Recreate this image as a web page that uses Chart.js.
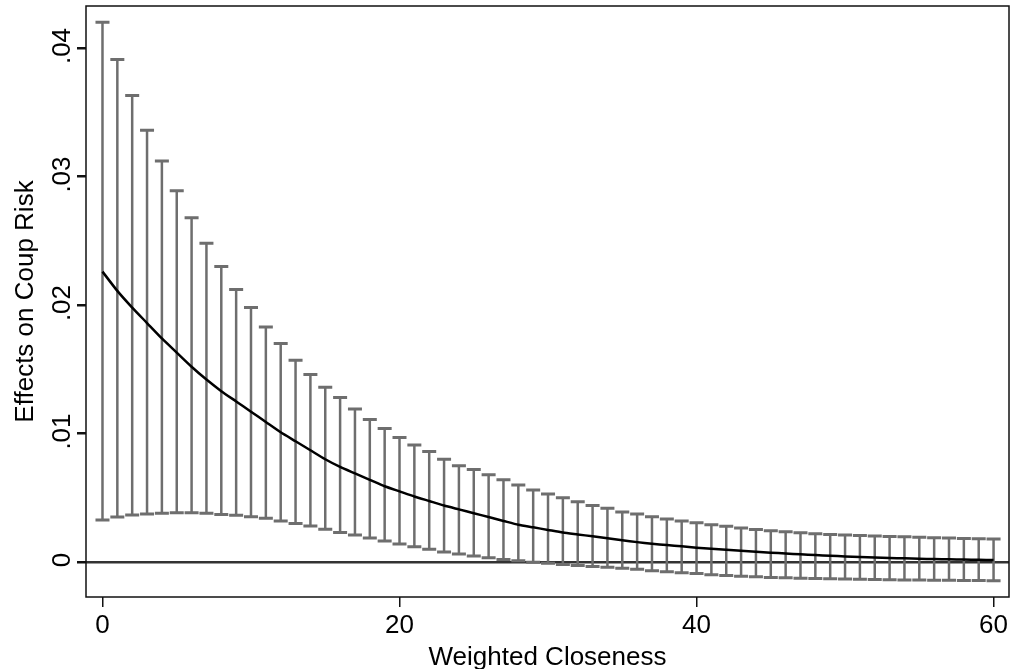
<!DOCTYPE html>
<html>
<head>
<meta charset="utf-8">
<script src="https://cdn.jsdelivr.net/npm/chart.js@4.4.1/dist/chart.umd.min.js"></script>
<style>
  html, body { margin: 0; padding: 0; background: #fff; }
  #wrap { width: 1011px; height: 669px; }
</style>
</head>
<body>
<div id="wrap"><canvas id="coupChart"></canvas></div>
<script>
// Weighted closeness values (x) and estimated effects with 95% CI
const closeness = [0, 1, 2, 3, 4, 5, 6, 7, 8, 9, 10, 11, 12, 13, 14, 15, 16, 17, 18, 19, 20,
    21, 22, 23, 24, 25, 26, 27, 28, 29, 30, 31, 32, 33, 34, 35, 36, 37, 38, 39, 40,
    41, 42, 43, 44, 45, 46, 47, 48, 49, 50, 51, 52, 53, 54, 55, 56, 57, 58, 59, 60];

const effect = [0.0226, 0.0211, 0.0198, 0.0186, 0.0174, 0.0163, 0.0152, 0.0142, 0.0133, 0.0125,
    0.0117, 0.0109, 0.0101, 0.0094, 0.0087, 0.0080, 0.0074, 0.0069, 0.0064, 0.0059,
    0.0055, 0.0051, 0.00475, 0.0044, 0.0041, 0.0038, 0.0035, 0.0032, 0.0029, 0.0027,
    0.0025, 0.0023, 0.00215, 0.0020, 0.00185, 0.0017, 0.00155, 0.00143, 0.00132, 0.00122,
    0.00112, 0.00103, 0.00095, 0.00087, 0.0008, 0.00073, 0.00066, 0.0006, 0.00054, 0.00049,
    0.00044, 0.0004, 0.00036, 0.00032, 0.00029, 0.00026, 0.00023, 0.00021, 0.00019, 0.00017,
    0.00015];

const upper = [0.0420, 0.0391, 0.0363, 0.0336, 0.0312, 0.0289, 0.0268, 0.0248, 0.0230, 0.0212,
    0.0198, 0.0183, 0.0170, 0.0157, 0.0146, 0.0136, 0.0128, 0.0119, 0.0111, 0.0104,
    0.0097, 0.0091, 0.0086, 0.0080, 0.0075, 0.0072, 0.0068, 0.0064, 0.0060, 0.0056,
    0.0053, 0.0050, 0.0047, 0.0044, 0.00418, 0.0039, 0.00373, 0.00353, 0.00335, 0.00319,
    0.00306, 0.0029, 0.00278, 0.00265, 0.00254, 0.00244, 0.00236, 0.00228, 0.0022, 0.00215,
    0.0021, 0.00206, 0.00202, 0.00199, 0.00196, 0.00192, 0.00189, 0.00187, 0.00184, 0.00182,
    0.0018];

const lower = [0.00327, 0.0035, 0.00366, 0.00374, 0.0038, 0.00384, 0.00384, 0.0038, 0.0037, 0.00364,
    0.00353, 0.0034, 0.0032, 0.0030, 0.0028, 0.00256, 0.0023, 0.0021, 0.00187, 0.00163,
    0.0014, 0.0012, 0.00099, 0.00078, 0.00062, 0.00047, 0.00033, 0.0002, 0.0001, -0.00001,
    -0.0001, -0.0002, -0.00027, -0.00034, -0.00041, -0.00049, -0.00057, -0.00067, -0.00075, -0.00083,
    -0.0009, -0.00098, -0.00104, -0.0011, -0.00115, -0.0012, -0.00123, -0.00126, -0.00128, -0.0013,
    -0.00132, -0.00134, -0.00136, -0.00137, -0.00139, -0.0014, -0.00141, -0.00142, -0.00143, -0.00144,
    -0.00145];

const xTicks = [0, 20, 40, 60];
const yTicks = [0, 0.01, 0.02, 0.03, 0.04];

const FONT = "'Liberation Sans', Arial, sans-serif";

// caps and stems for the confidence intervals
const errorBars = {
    id: 'errorBars',
    beforeDatasetsDraw(chart) {
        const { ctx, scales: { x, y } } = chart;
        ctx.save();
        ctx.strokeStyle = '#6e6e6e';
        closeness.forEach((c, i) => {
            const px = x.getPixelForValue(c);
            const top = y.getPixelForValue(upper[i]);
            const bot = y.getPixelForValue(lower[i]);
            ctx.lineWidth = 2.5;
            ctx.beginPath();
            ctx.moveTo(px, top);
            ctx.lineTo(px, bot);
            ctx.stroke();
            ctx.lineWidth = 3;
            ctx.beginPath();
            ctx.moveTo(px - 7, top);
            ctx.lineTo(px + 7, top);
            ctx.moveTo(px - 7, bot);
            ctx.lineTo(px + 7, bot);
            ctx.stroke();
        });
        ctx.restore();
    }
};

const frame = {
    id: 'frame',
    afterDraw(chart) {
        const { ctx, chartArea: a } = chart;
        ctx.save();
        ctx.strokeStyle = '#111';
        ctx.lineWidth = 1.5;
        ctx.strokeRect(a.left, a.top, a.right - a.left, a.bottom - a.top);
        ctx.restore();
    }
};

new Chart(document.getElementById('coupChart'), {
    type: 'line',
    data: {
        datasets: [{
            data: closeness.map((c, i) => ({ x: c, y: effect[i] })),
            borderColor: '#000',
            borderWidth: 2.5,
            pointRadius: 0,
            tension: 0.2,
            fill: false
        }]
    },
    options: {
        responsive: true,
        maintainAspectRatio: false,
        animation: false,
        layout: { padding: { top: 6, right: 2, left: 0, bottom: 0 } },
        plugins: {
            legend: { display: false },
            tooltip: { enabled: false }
        },
        scales: {
            x: {
                type: 'linear',
                min: -1.11,
                max: 61.04,
                afterBuildTicks: s => { s.ticks = xTicks.map(v => ({ value: v })); },
                afterFit: s => { s.height = 72; s.paddingLeft = 0; s.paddingRight = 0; },
                border: { display: false },
                grid: { drawOnChartArea: false, tickLength: 10, tickColor: '#111', lineWidth: 1.5 },
                ticks: {
                    color: '#000',
                    padding: 3,
                    font: { family: FONT, size: 26 },
                    maxRotation: 0
                },
                title: {
                    display: true,
                    text: 'Weighted Closeness',
                    color: '#000',
                    font: { family: FONT, size: 26 },
                    padding: { top: 0, bottom: -4 }
                }
            },
            y: {
                min: -0.00272,
                max: 0.04327,
                afterBuildTicks: s => { s.ticks = yTicks.map(v => ({ value: v })); },
                afterFit: s => { s.width = 86; s.paddingTop = 0; s.paddingBottom = 0; },
                border: { display: false },
                grid: {
                    tickLength: 9,
                    tickColor: '#111',
                    lineWidth: 2.5,
                    color: c => (c.tick && c.tick.value === 0 ? '#333' : 'rgba(0,0,0,0)')
                },
                ticks: {
                    color: '#000',
                    padding: -4,
                    crossAlign: 'center',
                    labelOffset: -2,
                    minRotation: 90,
                    maxRotation: 90,
                    font: { family: FONT, size: 26 },
                    callback: v => (v === 0 ? '0' : String(v).replace('0.', '.'))
                },
                title: {
                    display: true,
                    text: 'Effects on Coup Risk',
                    color: '#000',
                    font: { family: FONT, size: 26 },
                    padding: { top: 10, bottom: 0 }
                }
            }
        }
    },
    plugins: [errorBars, frame]
});
</script>
</body>
</html>
